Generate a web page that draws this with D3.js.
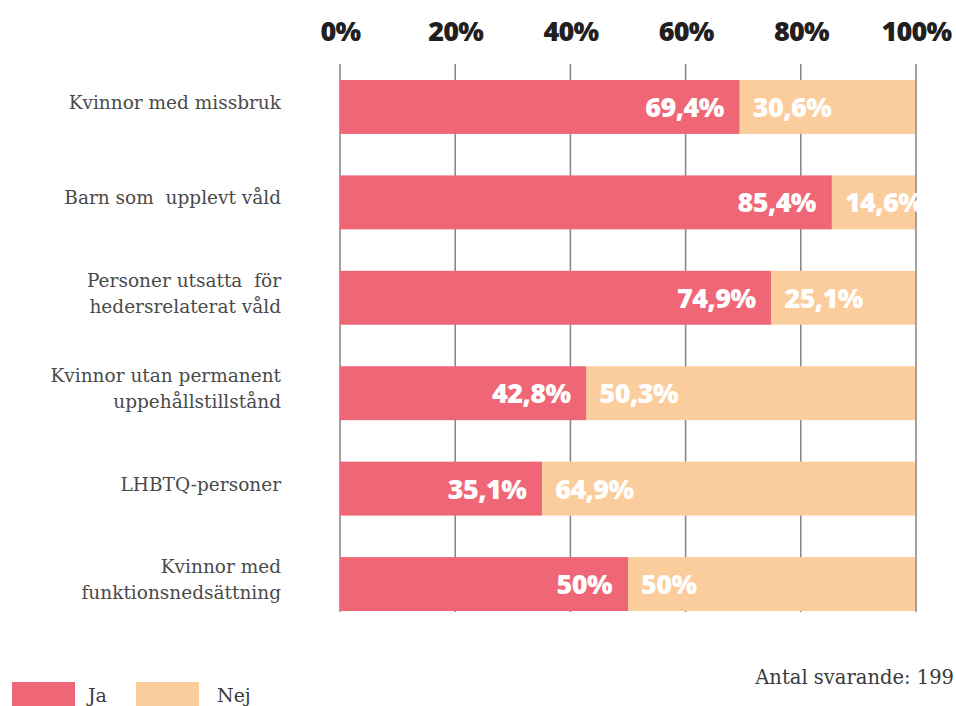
<!DOCTYPE html>
<html><head><meta charset="utf-8">
<script src="https://cdn.jsdelivr.net/npm/d3@7"></script>
<style>body{margin:0;background:#fff}</style>
</head><body>
<svg id="c" width="956" height="706"></svg>
<script>
const categories = [
  ["Kvinnor med missbruk"],
  ["Barn som  upplevt våld"],
  ["Personer utsatta  för", "hedersrelaterat våld"],
  ["Kvinnor utan permanent", "uppehållstillstånd"],
  ["LHBTQ-personer"],
  ["Kvinnor med", "funktionsnedsättning"]
];
const ja = [69.4, 85.4, 74.9, 42.8, 35.1, 50];
const nej = [30.6, 14.6, 25.1, 50.3, 64.9, 50];
const tickValues = [0, 20, 40, 60, 80, 100];
const seriesNames = ["Ja", "Nej"];
const colors = ["#EF6676", "#FCCD9C"];
const note = "Antal svarande: 199";

const fmt = v => String(v).replace(".", ",") + "%";
const svg = d3.select("#c");
const x = d3.scaleLinear().domain([0, 100]).range([340, 916]);
const y = d3.scaleBand().domain(d3.range(categories.length)).range([80, 611]).paddingInner(0.435).paddingOuter(0);

// top axis labels
const ax = svg.append("g").attr("transform", "translate(0,41)")
  .call(d3.axisTop(x).tickValues(tickValues).tickFormat(d => d + "%").tickSize(0).tickPadding(0));
ax.select(".domain").remove();
ax.selectAll("text").attr("font-family", "'Open Sans', sans-serif").attr("font-weight", 800)
  .attr("font-size", 27).attr("fill", "#231f20").attr("dy", 0).attr("letter-spacing", "-0.8");

// gridlines
svg.append("g").selectAll("line").data(tickValues).join("line")
  .attr("x1", d => x(d)).attr("x2", d => x(d)).attr("y1", 64).attr("y2", 612)
  .attr("stroke", "#8a8a8a").attr("stroke-width", 1.6);

// bars
const rows = svg.append("g").selectAll("g").data(categories).join("g");
rows.append("rect").attr("x", x(0)).attr("y", (d, i) => y(i)).attr("height", y.bandwidth())
  .attr("width", (d, i) => x(ja[i]) - x(0)).attr("fill", colors[0]);
rows.append("rect").attr("x", (d, i) => x(ja[i])).attr("y", (d, i) => y(i)).attr("height", y.bandwidth())
  .attr("width", (d, i) => x(100) - x(ja[i]) - 1).attr("fill", colors[1]);

const lblFont = "'Open Sans', sans-serif";
rows.append("text").attr("x", (d, i) => x(ja[i]) - 16).attr("y", (d, i) => y(i) + y.bandwidth() / 2 + 10)
  .attr("text-anchor", "end").attr("font-family", lblFont).attr("font-weight", 800).attr("font-size", 27)
  .attr("fill", "#fff").attr("letter-spacing", "-0.6").text((d, i) => fmt(ja[i]));
rows.append("text").attr("x", (d, i) => x(ja[i]) + 13).attr("y", (d, i) => y(i) + y.bandwidth() / 2 + 10)
  .attr("text-anchor", "start").attr("font-family", lblFont).attr("font-weight", 800).attr("font-size", 27)
  .attr("fill", "#fff").attr("letter-spacing", "-0.6").text((d, i) => fmt(nej[i]));

// category labels
rows.each(function (d, i) {
  const g = d3.select(this);
  const cy = y(i) + y.bandwidth() / 2 - 5;
  const n = d.length;
  d.forEach((line, k) => {
    g.append("text").attr("x", 281).attr("y", cy + (k - (n - 1) / 2) * 26 + 7)
      .attr("text-anchor", "end").attr("font-family", "'DejaVu Serif', serif").attr("font-size", 18.5)
      .attr("fill", "#4a4a4a").style("white-space", "pre").text(line);
  });
});

// legend
const leg = svg.append("g");
seriesNames.forEach((s, i) => {
  const lx = 12 + i * 124;
  leg.append("rect").attr("x", lx).attr("y", 682).attr("width", 63).attr("height", 26).attr("fill", colors[i]);
  leg.append("text").attr("x", lx + 76 + i * 5).attr("y", 702).attr("font-family", "'DejaVu Serif', serif")
    .attr("font-size", 19).attr("fill", "#3a3a3a").text(s);
});
svg.append("text").attr("x", 954).attr("y", 684).attr("text-anchor", "end")
  .attr("font-family", "'DejaVu Serif', serif").attr("font-size", 19.5).attr("fill", "#3a3a3a").text(note);
</script>
</body></html>
